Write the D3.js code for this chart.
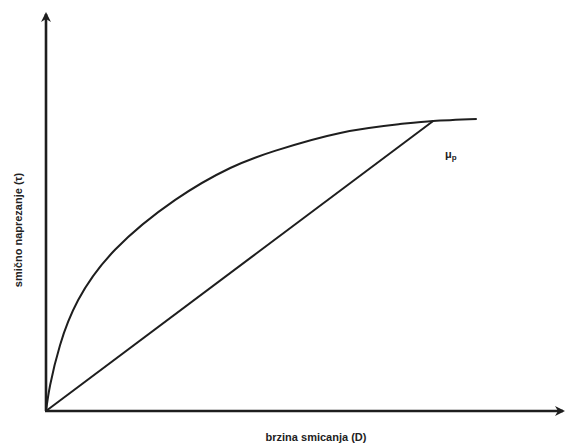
<!DOCTYPE html>
<html>
<head>
<meta charset="utf-8">
<script src="https://cdn.jsdelivr.net/npm/d3@7"></script>
<style>
  body { margin: 0; background: #fff; }
  .lbl { font-family: "Liberation Sans", Arial, sans-serif; font-weight: bold; font-size: 11px; fill: #222; }
</style>
</head>
<body>
<div class="vis"></div>
<script>
// shear-rate (D) vs shear-stress (tau), arbitrary units 0..100
const rate = [0, 0.8, 2.7, 6.2, 13.3, 24.9, 35.5, 44.1, 56.7, 68.2, 74.6, 83.0];
const stress = [0, 6.5, 16.5, 27.8, 40.4, 52.9, 60.9, 65.2, 69.7, 71.9, 72.7, 73.2];
// straight line from origin to the tangent point
const lineRate = [0, 74.6];
const lineStress = [0, 72.7];
const xLabel = "brzina smicanja (D)";
const yLabel = "smično naprezanje (τ)";

const width = 569, height = 447;
const margin = { top: 12, right: 4, bottom: 36, left: 46 };

const svg = d3.select(".vis").append("svg")
  .attr("width", width)
  .attr("height", height);

const x = d3.scaleLinear().domain([0, 100]).range([margin.left, width - margin.right]);
const y = d3.scaleLinear().domain([0, 100]).range([height - margin.bottom, margin.top]);

const ink = "#1e1e1e";

// axes with arrows
svg.append("line")
  .attr("x1", x(0)).attr("y1", y(0))
  .attr("x2", x(0)).attr("y2", y(100) + 2)
  .attr("stroke", ink).attr("stroke-width", 2.6);
svg.append("line")
  .attr("x1", x(0) - 1).attr("y1", y(0))
  .attr("x2", x(100) - 2).attr("y2", y(0))
  .attr("stroke", ink).attr("stroke-width", 2.6);

svg.append("path")
  .attr("d", `M${x(0)},${y(100)} L${x(0) - 5},${y(100) + 10} L${x(0)},${y(100) + 7} L${x(0) + 5},${y(100) + 10} Z`)
  .attr("fill", ink);
svg.append("path")
  .attr("d", `M${x(100)},${y(0)} L${x(100) - 10},${y(0) - 5} L${x(100) - 7},${y(0)} L${x(100) - 10},${y(0) + 5} Z`)
  .attr("fill", ink);

const pts = rate.map((r, i) => [r, stress[i]]);
svg.append("path")
  .datum(pts)
  .attr("fill", "none")
  .attr("stroke", ink)
  .attr("stroke-width", 2)
  .attr("d", d3.line().x(d => x(d[0])).y(d => y(d[1])).curve(d3.curveNatural));

svg.append("path")
  .datum(lineRate.map((r, i) => [r, lineStress[i]]))
  .attr("fill", "none")
  .attr("stroke", ink)
  .attr("stroke-width", 2)
  .attr("d", d3.line().x(d => x(d[0])).y(d => y(d[1])));

// labels
svg.append("text").attr("class", "lbl")
  .attr("x", 316).attr("y", 441)
  .attr("text-anchor", "middle")
  .text(xLabel);

svg.append("text").attr("class", "lbl")
  .attr("transform", "translate(22,230) rotate(-90)")
  .attr("text-anchor", "middle")
  .text(yLabel);

const mu = svg.append("text").attr("class", "lbl")
  .attr("x", 445).attr("y", 158);
mu.append("tspan").text("μ");
mu.append("tspan").attr("font-size", 8).attr("dy", 2).text("p");
</script>
</body>
</html>
